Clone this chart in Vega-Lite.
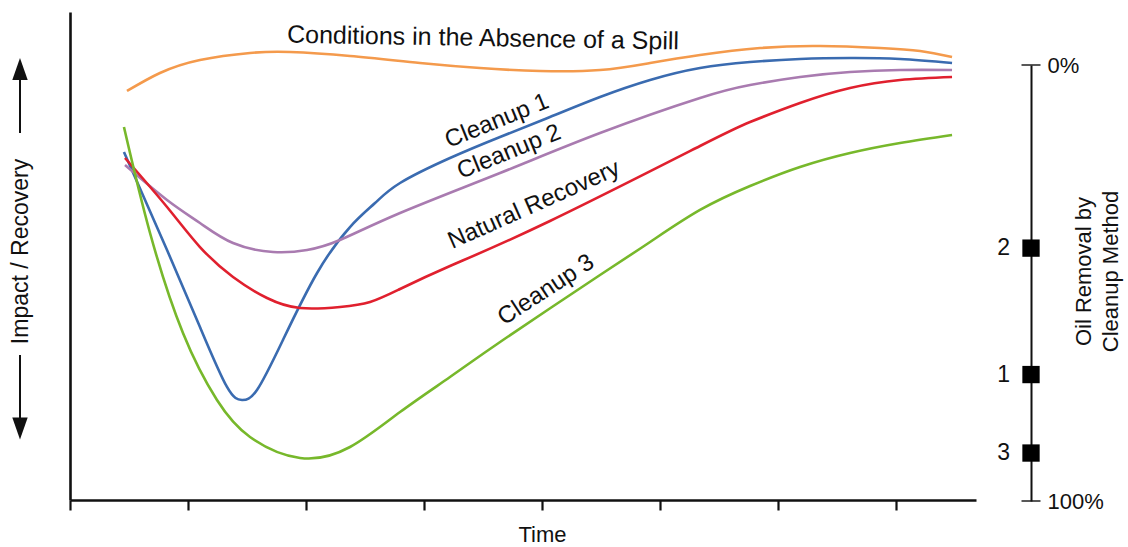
{
  "$schema": "https://vega.github.io/schema/vega-lite/v6.json",
  "width": 1128,
  "height": 547,
  "autosize": "none",
  "padding": 0,
  "background": "white",
  "config": {
    "view": {"stroke": null},
    "font": "Liberation Sans",
    "axis": {"grid": false, "domainColor": "#111", "tickColor": "#111", "labelColor": "#111", "titleColor": "#111", "labelFont": "Liberation Sans", "titleFont": "Liberation Sans", "titleFontWeight": "normal"}
  },
  "datasets": {
    "curves": [
      {"series": "Conditions in the Absence of a Spill", "t": 0.483, "v": 83.81},
      {"series": "Conditions in the Absence of a Spill", "t": 0.762, "v": 87.50},
      {"series": "Conditions in the Absence of a Spill", "t": 1.101, "v": 90.16},
      {"series": "Conditions in the Absence of a Spill", "t": 1.525, "v": 91.60},
      {"series": "Conditions in the Absence of a Spill", "t": 1.864, "v": 91.80},
      {"series": "Conditions in the Absence of a Spill", "t": 2.372, "v": 90.98},
      {"series": "Conditions in the Absence of a Spill", "t": 2.965, "v": 89.55},
      {"series": "Conditions in the Absence of a Spill", "t": 3.473, "v": 88.52},
      {"series": "Conditions in the Absence of a Spill", "t": 3.982, "v": 87.91},
      {"series": "Conditions in the Absence of a Spill", "t": 4.490, "v": 88.11},
      {"series": "Conditions in the Absence of a Spill", "t": 4.914, "v": 89.55},
      {"series": "Conditions in the Absence of a Spill", "t": 5.337, "v": 91.19},
      {"series": "Conditions in the Absence of a Spill", "t": 5.846, "v": 92.62},
      {"series": "Conditions in the Absence of a Spill", "t": 6.354, "v": 93.03},
      {"series": "Conditions in the Absence of a Spill", "t": 6.862, "v": 92.62},
      {"series": "Conditions in the Absence of a Spill", "t": 7.201, "v": 92.01},
      {"series": "Conditions in the Absence of a Spill", "t": 7.472, "v": 90.78},

      {"series": "Cleanup 1", "t": 0.457, "v": 71.31},
      {"series": "Cleanup 1", "t": 0.822, "v": 51.23},
      {"series": "Cleanup 1", "t": 1.101, "v": 35.45},
      {"series": "Cleanup 1", "t": 1.330, "v": 23.16},
      {"series": "Cleanup 1", "t": 1.457, "v": 20.49},
      {"series": "Cleanup 1", "t": 1.584, "v": 22.54},
      {"series": "Cleanup 1", "t": 1.804, "v": 32.79},
      {"series": "Cleanup 1", "t": 2.093, "v": 46.52},
      {"series": "Cleanup 1", "t": 2.372, "v": 55.94},
      {"series": "Cleanup 1", "t": 2.584, "v": 60.86},
      {"series": "Cleanup 1", "t": 2.796, "v": 64.96},
      {"series": "Cleanup 1", "t": 3.219, "v": 70.08},
      {"series": "Cleanup 1", "t": 3.643, "v": 74.39},
      {"series": "Cleanup 1", "t": 4.066, "v": 78.48},
      {"series": "Cleanup 1", "t": 4.490, "v": 82.58},
      {"series": "Cleanup 1", "t": 4.914, "v": 86.07},
      {"series": "Cleanup 1", "t": 5.337, "v": 88.52},
      {"series": "Cleanup 1", "t": 5.761, "v": 89.75},
      {"series": "Cleanup 1", "t": 6.184, "v": 90.37},
      {"series": "Cleanup 1", "t": 6.608, "v": 90.57},
      {"series": "Cleanup 1", "t": 7.032, "v": 90.37},
      {"series": "Cleanup 1", "t": 7.472, "v": 89.55},

      {"series": "Cleanup 2", "t": 0.466, "v": 68.65},
      {"series": "Cleanup 2", "t": 0.822, "v": 61.48},
      {"series": "Cleanup 2", "t": 1.101, "v": 56.76},
      {"series": "Cleanup 2", "t": 1.381, "v": 52.66},
      {"series": "Cleanup 2", "t": 1.720, "v": 50.82},
      {"series": "Cleanup 2", "t": 2.008, "v": 51.23},
      {"series": "Cleanup 2", "t": 2.287, "v": 53.28},
      {"series": "Cleanup 2", "t": 2.796, "v": 58.81},
      {"series": "Cleanup 2", "t": 3.643, "v": 67.01},
      {"series": "Cleanup 2", "t": 4.490, "v": 75.20},
      {"series": "Cleanup 2", "t": 5.337, "v": 82.38},
      {"series": "Cleanup 2", "t": 5.761, "v": 85.04},
      {"series": "Cleanup 2", "t": 6.184, "v": 86.68},
      {"series": "Cleanup 2", "t": 6.608, "v": 87.70},
      {"series": "Cleanup 2", "t": 7.032, "v": 88.11},
      {"series": "Cleanup 2", "t": 7.472, "v": 88.11},

      {"series": "Natural Recovery", "t": 0.466, "v": 70.08},
      {"series": "Natural Recovery", "t": 0.822, "v": 60.04},
      {"series": "Natural Recovery", "t": 1.101, "v": 51.84},
      {"series": "Natural Recovery", "t": 1.381, "v": 45.70},
      {"series": "Natural Recovery", "t": 1.669, "v": 41.39},
      {"series": "Natural Recovery", "t": 1.949, "v": 39.34},
      {"series": "Natural Recovery", "t": 2.287, "v": 39.55},
      {"series": "Natural Recovery", "t": 2.542, "v": 40.57},
      {"series": "Natural Recovery", "t": 2.796, "v": 43.24},
      {"series": "Natural Recovery", "t": 3.219, "v": 47.95},
      {"series": "Natural Recovery", "t": 4.066, "v": 57.17},
      {"series": "Natural Recovery", "t": 5.337, "v": 72.54},
      {"series": "Natural Recovery", "t": 5.761, "v": 77.46},
      {"series": "Natural Recovery", "t": 6.184, "v": 81.35},
      {"series": "Natural Recovery", "t": 6.608, "v": 84.43},
      {"series": "Natural Recovery", "t": 7.032, "v": 86.07},
      {"series": "Natural Recovery", "t": 7.472, "v": 86.68},

      {"series": "Cleanup 3", "t": 0.457, "v": 76.43},
      {"series": "Cleanup 3", "t": 0.678, "v": 54.71},
      {"series": "Cleanup 3", "t": 0.957, "v": 34.22},
      {"series": "Cleanup 3", "t": 1.245, "v": 20.49},
      {"series": "Cleanup 3", "t": 1.525, "v": 12.91},
      {"series": "Cleanup 3", "t": 1.949, "v": 8.61},
      {"series": "Cleanup 3", "t": 2.372, "v": 10.86},
      {"series": "Cleanup 3", "t": 2.796, "v": 18.03},
      {"series": "Cleanup 3", "t": 3.219, "v": 25.20},
      {"series": "Cleanup 3", "t": 3.668, "v": 32.79},
      {"series": "Cleanup 3", "t": 4.490, "v": 46.11},
      {"series": "Cleanup 3", "t": 4.914, "v": 52.87},
      {"series": "Cleanup 3", "t": 5.337, "v": 59.43},
      {"series": "Cleanup 3", "t": 5.761, "v": 64.34},
      {"series": "Cleanup 3", "t": 6.184, "v": 68.24},
      {"series": "Cleanup 3", "t": 6.608, "v": 71.11},
      {"series": "Cleanup 3", "t": 7.032, "v": 73.16},
      {"series": "Cleanup 3", "t": 7.472, "v": 74.80}
    ],
    "labels": [
      {"series": "Conditions in the Absence of a Spill", "t": 3.499, "v": 94.67},
      {"series": "Cleanup 1", "t": 3.617, "v": 77.66},
      {"series": "Cleanup 2", "t": 3.719, "v": 71.31},
      {"series": "Natural Recovery", "t": 3.931, "v": 60.45},
      {"series": "Cleanup 3", "t": 4.033, "v": 43.03}
    ],
    "removal": [
      {"method": "2", "removal": 42},
      {"method": "1", "removal": 71},
      {"method": "3", "removal": 89}
    ],
    "ends": [
      {"removal": 0},
      {"removal": 100}
    ]
  },
  "layer": [
    {
      "layer": [
        {
          "data": {"name": "curves"},
          "mark": {"type": "line", "interpolate": "natural", "strokeWidth": 2.6},
          "encoding": {
            "x": {"field": "t", "type": "quantitative",
              "scale": {"domain": [0, 7.675], "range": [70, 976], "nice": false, "zero": false},
              "axis": {"values": [0, 1, 2, 3, 4, 5, 6, 7], "labels": false, "tickSize": 10, "tickWidth": 2.2, "domainWidth": 2.6, "offset": -47, "title": "Time", "titleFontSize": 22, "titleX": 542, "titleY": 34, "titleBaseline": "middle", "titleAlign": "center"}},
            "y": {"field": "v", "type": "quantitative",
              "scale": {"domain": [0, 100], "range": [500, 12], "nice": false, "zero": false},
              "axis": {"orient": "left", "offset": -70, "ticks": false, "labels": false, "domainWidth": 2.6, "title": "Impact / Recovery", "titleFontSize": 23, "titleX": -50, "titleY": 251, "titleAngle": 270, "titleAlign": "center", "titleBaseline": "middle"}},
            "color": {"field": "series", "type": "nominal", "legend": null,
              "scale": {"domain": ["Conditions in the Absence of a Spill", "Cleanup 1", "Cleanup 2", "Natural Recovery", "Cleanup 3"],
                "range": ["#F49A4C", "#3A6BB0", "#A97BB0", "#E0202E", "#77B82B"]}}
          }
        },
        {
          "data": {"name": "labels"},
          "transform": [{"filter": "datum.series == 'Conditions in the Absence of a Spill'"}],
          "mark": {"type": "text", "fontSize": 25, "angle": 1, "color": "#111", "align": "center", "baseline": "middle"},
          "encoding": {
            "x": {"field": "t", "type": "quantitative"},
            "y": {"field": "v", "type": "quantitative"},
            "text": {"field": "series"}
          }
        },
        {
          "data": {"name": "labels"},
          "transform": [{"filter": "datum.series == 'Cleanup 1'"}],
          "mark": {"type": "text", "fontSize": 24, "angle": 338, "color": "#111", "align": "center", "baseline": "middle"},
          "encoding": {
            "x": {"field": "t", "type": "quantitative"},
            "y": {"field": "v", "type": "quantitative"},
            "text": {"field": "series"}
          }
        },
        {
          "data": {"name": "labels"},
          "transform": [{"filter": "datum.series == 'Cleanup 2'"}],
          "mark": {"type": "text", "fontSize": 24, "angle": 338, "color": "#111", "align": "center", "baseline": "middle"},
          "encoding": {
            "x": {"field": "t", "type": "quantitative"},
            "y": {"field": "v", "type": "quantitative"},
            "text": {"field": "series"}
          }
        },
        {
          "data": {"name": "labels"},
          "transform": [{"filter": "datum.series == 'Natural Recovery'"}],
          "mark": {"type": "text", "fontSize": 24, "angle": 336, "color": "#111", "align": "center", "baseline": "middle"},
          "encoding": {
            "x": {"field": "t", "type": "quantitative"},
            "y": {"field": "v", "type": "quantitative"},
            "text": {"field": "series"}
          }
        },
        {
          "data": {"name": "labels"},
          "transform": [{"filter": "datum.series == 'Cleanup 3'"}],
          "mark": {"type": "text", "fontSize": 24, "angle": 327, "color": "#111", "align": "center", "baseline": "middle"},
          "encoding": {
            "x": {"field": "t", "type": "quantitative"},
            "y": {"field": "v", "type": "quantitative"},
            "text": {"field": "series"}
          }
        },
        {
          "data": {"values": [{}]},
          "mark": {"type": "rule", "strokeWidth": 2, "color": "#111"},
          "encoding": {
            "x": {"datum": -0.4236, "type": "quantitative"},
            "y": {"datum": 75.2, "type": "quantitative"},
            "y2": {"datum": 86.5}
          }
        },
        {
          "data": {"values": [{}]},
          "mark": {"type": "point", "shape": "M0,-1L-0.7,1L0.7,1Z", "filled": true, "size": 484, "color": "#111", "opacity": 1},
          "encoding": {
            "x": {"datum": -0.4236, "type": "quantitative"},
            "y": {"datum": 88.32, "type": "quantitative"}
          }
        },
        {
          "data": {"values": [{}]},
          "mark": {"type": "rule", "strokeWidth": 2, "color": "#111"},
          "encoding": {
            "x": {"datum": -0.4236, "type": "quantitative"},
            "y": {"datum": 29.71, "type": "quantitative"},
            "y2": {"datum": 16.4}
          }
        },
        {
          "data": {"values": [{}]},
          "mark": {"type": "point", "shape": "M0,1L-0.7,-1L0.7,-1Z", "filled": true, "size": 484, "color": "#111", "opacity": 1},
          "encoding": {
            "x": {"datum": -0.4236, "type": "quantitative"},
            "y": {"datum": 14.65, "type": "quantitative"}
          }
        }
      ]
    },
    {
      "layer": [
        {
          "data": {"name": "ends"},
          "mark": {"type": "tick", "orient": "horizontal", "size": 19, "thickness": 2, "color": "#111"},
          "encoding": {
            "x": {"datum": 8.141, "type": "quantitative"},
            "y": {"field": "removal", "type": "quantitative",
              "scale": {"domain": [0, 100], "range": [65, 501], "nice": false, "zero": false},
              "axis": {"orient": "right", "offset": -97, "values": [0, 100], "labelExpr": "datum.value + '%'", "ticks": false, "domainWidth": 2, "labelFontSize": 22, "labelPadding": 16, "labelAlign": "left", "labelBaseline": "middle",
                "title": ["Oil Removal by", "Cleanup Method"], "titleFontSize": 22, "titleLineHeight": 27, "titleAngle": 270, "titleX": 52, "titleY": 271, "titleAlign": "center", "titleBaseline": "middle"}}
          }
        },
        {
          "data": {"name": "removal"},
          "mark": {"type": "point", "shape": "square", "filled": true, "size": 300, "color": "#000", "opacity": 1},
          "encoding": {
            "x": {"datum": 8.141, "type": "quantitative"},
            "y": {"field": "removal", "type": "quantitative"}
          }
        },
        {
          "data": {"name": "removal"},
          "mark": {"type": "text", "fontSize": 23, "align": "right", "baseline": "middle", "dx": -21, "color": "#111"},
          "encoding": {
            "x": {"datum": 8.141, "type": "quantitative"},
            "y": {"field": "removal", "type": "quantitative"},
            "text": {"field": "method"}
          }
        }
      ]
    }
  ],
  "resolve": {"scale": {"y": "independent"}, "axis": {"y": "independent"}}
}
